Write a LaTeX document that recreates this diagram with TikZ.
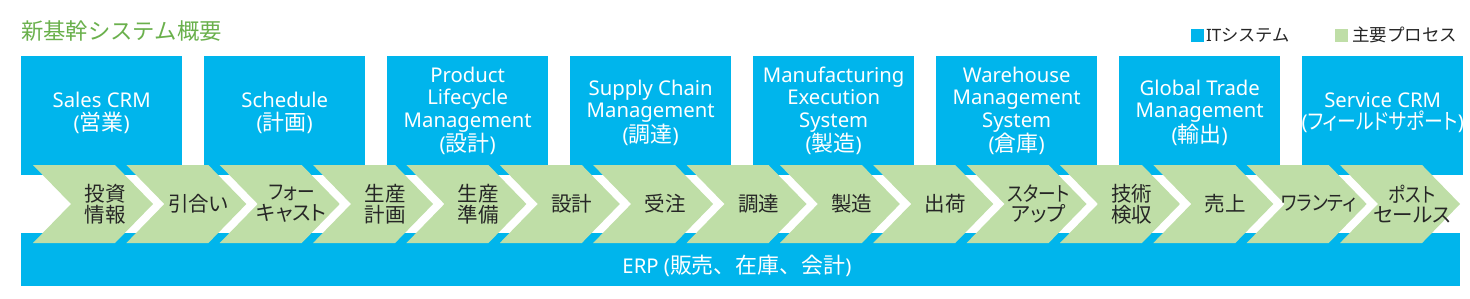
\documentclass[tikz,border=0pt]{standalone}
\usepackage{fontspec}
\setmainfont{Noto Sans}
\newfontfamily\jp{Noto Sans CJK JP}[CharacterWidth=AlternateProportional, Scale=1.08]
\newfontfamily\kana{Noto Sans CJK JP}[CharacterWidth=AlternateProportional, Scale=1.08, FakeStretch=0.86]
\newfontfamily\jpfw{Noto Sans CJK JP}[Scale=1.08]
\usetikzlibrary{positioning}
\definecolor{itblue}{RGB}{0,181,236}
\definecolor{procgreen}{RGB}{191,222,167}
\definecolor{titlegreen}{RGB}{106,176,76}

\begin{document}
\begin{tikzpicture}[x=1pt, y=-1pt,
    itbox/.style={fill=itblue, minimum width=161pt, minimum height=119pt,
                  inner sep=0pt, anchor=north west},
    systext/.style={text=white, align=center, inner sep=0pt,
                    font=\fontsize{20.3}{22.5}\selectfont},
    procfill/.style={fill=procgreen},
    proctext/.style={align=center, inner sep=0pt, text=black!85,
                     font=\jp\fontsize{19}{20.8}\selectfont},
    legendsq/.style={fill=#1, minimum size=13pt, inner sep=0pt},
    legendtext/.style={anchor=west, inner sep=0pt, text=black!85,
                       font=\fontsize{17}{19}\selectfont}
  ]
  \useasboundingbox (0,0) rectangle (1470,298);
  % title and legend
  \node[anchor=west, inner sep=0pt, text=titlegreen,
        font=\jpfw\fontsize{20.7}{22}\selectfont] (title) at (21,31) {新基幹システム概要};
  \node[legendsq=itblue] (itsq) at (1197,35) {};
  \node[legendtext] (itlbl) at (1206,35) {IT{\jpfw\fontsize{16}{18}\selectfont システム}};
  \node[legendsq=procgreen] (procsq) at (1341,35) {};
  \node[legendtext, font=\jpfw\fontsize{16.2}{18}\selectfont] (proclbl) at (1352,35) {主要プロセス};
  % IT systems
  \node[itbox] (crm) at (21,56) {};
  \node[itbox, right=21.6pt of crm]   (sched) {};
  \node[itbox, right=21.6pt of sched] (plm) {};
  \node[itbox, right=21.6pt of plm]   (scm) {};
  \node[itbox, right=21.6pt of scm]   (mes) {};
  \node[itbox, right=21.6pt of mes]   (wms) {};
  \node[itbox, right=21.6pt of wms]   (gtm) {};
  \node[itbox, right=21.6pt of gtm]   (svc) {};
  \node[systext] (crmtxt)   at ([yshift=3pt]crm.center)   {Sales CRM\\({\jp 営業})};
  \node[systext] (schedtxt) at ([yshift=3pt]sched.center) {Schedule\\({\jp 計画})};
  \node[systext] (plmtxt)   at ([yshift=5pt]plm.center)   {Product\\Lifecycle\\Management\\({\jp 設計})};
  \node[systext] (scmtxt)   at ([yshift=3pt]scm.center)   {Supply Chain\\Management\\({\jp 調達})};
  \node[systext] (mestxt)   at ([yshift=5pt]mes.center)   {Manufacturing\\Execution\\System\\({\jp 製造})};
  \node[systext] (wmstxt)   at ([yshift=5pt]wms.center)   {Warehouse\\Management\\System\\({\jp 倉庫})};
  \node[systext] (gtmtxt)   at ([yshift=3pt]gtm.center)   {Global Trade\\Management\\({\jp 輸出})};
  \node[systext] (svctxt)   at ([yshift=3pt]svc.center)   {Service CRM\\({\kana フィールドサポート})};
  % ERP
  \node[itbox, minimum width=1439pt, minimum height=53pt] (erp) at (21,233) {};
  \node[systext] (erptxt) at (737,266) {ERP ({\jpfw 販売、在庫、会計})};
  % main processes
  \foreach \lbl [count=\i from 0] in {{投資\\情報}, 引合い, {\kana フォー\\キャスト},
      {生産\\計画}, {生産\\準備}, 設計, 受注, 調達, 製造, 出荷, {\kana スタート\\アップ},
      {技術\\検収}, 売上, {\kana ワランティ}, {\kana ポスト\\セールス}} {
    \fill[procfill] (33+93.36*\i,165) -- ++(82,0) -- ++(38,39)
      -- ++(-38,39) -- ++(-82,0) -- ++(38,-39) -- cycle;
    \node[proctext] (proc\i) at (105+93.36*\i,204) {\lbl};
  }
\end{tikzpicture}
\end{document}
